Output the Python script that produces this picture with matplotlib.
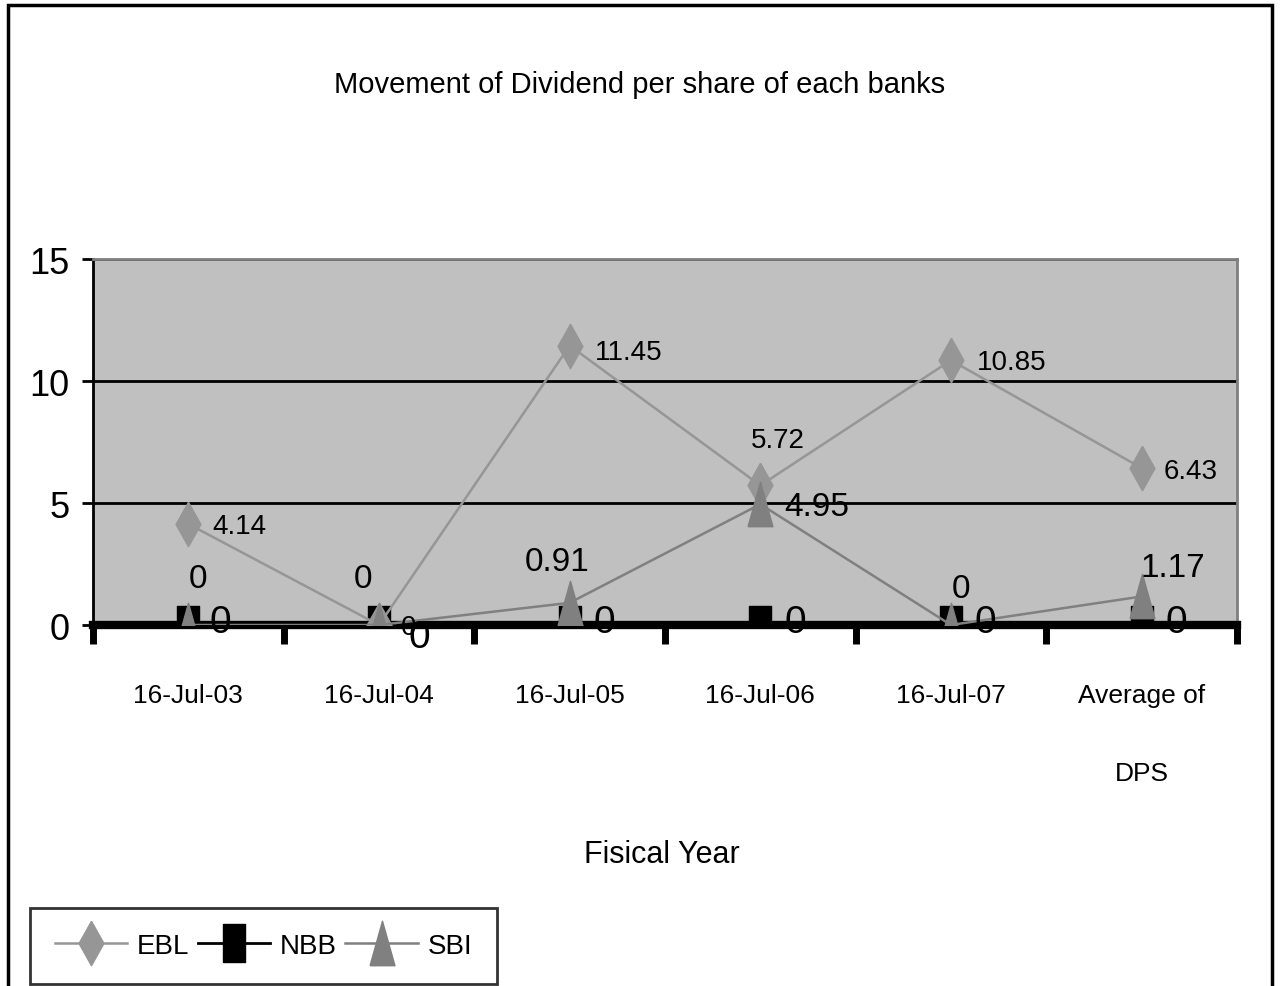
import matplotlib
matplotlib.use('Agg')
import matplotlib.pyplot as plt
from matplotlib.patches import Rectangle

plt.rcParams['font.family'] = ['Liberation Sans', 'DejaVu Sans']

# Dividend per share by fiscal year
years = ['16-Jul-03', '16-Jul-04', '16-Jul-05', '16-Jul-06', '16-Jul-07', 'Average of\nDPS']
ebl = [4.14, 0, 11.45, 5.72, 10.85, 6.43]
nbb = [0, 0, 0, 0, 0, 0]
sbi = [0, 0, 0.91, 4.95, 0, 1.17]

# label placement in pixels: (dx, dy, horizontal alignment)
ebl_pos = [(24, -2, 'left'), (22, -2, 'left'), (25, -6, 'left'),
           (17, 45, 'center'), (26, -2, 'left'), (22, -3, 'left')]
sbi_pos = [(10, 46, 'center'), (-16, 46, 'center'), (-13, 41, 'center'),
           (24, -2, 'left'), (10, 36, 'center'), (31, 29, 'center')]
nbb_pos = [(21, 3, 'left'), (30, -12, 'left'), (24, 3, 'left'),
           (24, 3, 'left'), (24, 3, 'left'), (24, 3, 'left')]

# tall narrow markers
diamond = [(0, 1), (0.56, 0), (0, -1), (-0.56, 0), (0, 1)]
triangle = [(-0.56, -1), (0.56, -1), (0, 1), (-0.56, -1)]
square = [(-0.57, -1), (0.57, -1), (0.57, 1), (-0.57, 1), (-0.57, -1)]

fig = plt.figure(figsize=(12.82, 9.87), dpi=100)
fig.patch.set_facecolor('white')

# chart frame
fig.patches.append(Rectangle((8 / 1282, -0.05), (1272 - 8) / 1282, 1.05 - 6 / 987,
                             transform=fig.transFigure, fill=False,
                             edgecolor='black', linewidth=2.5))

ax = fig.add_axes([93 / 1282, 1 - 626 / 987, (1237 - 93) / 1282, (626 - 260) / 987])
ax.set_facecolor('#c0c0c0')

x = list(range(len(years)))
ax.plot(x, ebl, color='#969696', linewidth=1.8, marker=diamond, markersize=32,
        markerfacecolor='#969696', markeredgecolor='#969696', label='EBL', zorder=4)
ax.plot(x, nbb, color='black', linewidth=2, marker=square, markersize=28,
        markerfacecolor='black', markeredgecolor='black', label='NBB', zorder=3)
ax.plot(x, sbi, color='#808080', linewidth=1.8, marker=triangle, markersize=32,
        markerfacecolor='#808080', markeredgecolor='#808080', label='SBI', zorder=5)


def put_labels(vals, pos, size):
    for xi, v, (dx, dy, ha) in zip(x, vals, pos):
        ax.annotate(f'{v:g}', (xi, v), xytext=(dx, dy), textcoords='offset pixels',
                    ha=ha, va='center', fontsize=size, zorder=6, annotation_clip=False)


put_labels(ebl, ebl_pos, 20)
put_labels(sbi, sbi_pos, 24)
put_labels(nbb, nbb_pos, 28)

ax.set_xlim(-0.5, len(years) - 0.5)
ax.set_ylim(0, 15)
ax.set_yticks([0, 5, 10, 15])
ax.yaxis.grid(True, color='black', linewidth=2)
ax.set_axisbelow(True)

# tick marks sit between categories, labels under each category
ax.set_xticks([i - 0.5 for i in range(len(years) + 1)])
ax.set_xticklabels([])
ax.set_xticks(x, minor=True)
ax.set_xticklabels(years, minor=True, fontsize=19, linespacing=3.8, va='top')
ax.tick_params(axis='x', which='major', direction='out', length=14, width=5, color='black')
ax.tick_params(axis='x', which='minor', length=0, pad=42)
ax.tick_params(axis='y', direction='out', length=8, width=2, labelsize=26, pad=9)

ax.spines['left'].set_linewidth(2)
ax.spines['bottom'].set_linewidth(6)
ax.spines['bottom'].set_zorder(2.5)
ax.spines['top'].set_color('#808080')
ax.spines['top'].set_linewidth(2)
ax.spines['right'].set_color('#808080')
ax.spines['right'].set_linewidth(2)

fig.text(640 / 1282, 1 - 85 / 987, 'Movement of Dividend per share of each banks',
         ha='center', va='center', fontsize=21)
fig.text(662 / 1282, 1 - 855 / 987, 'Fisical Year', ha='center', va='center', fontsize=22)

leg = fig.legend(loc='lower left',
                 bbox_to_anchor=(30 / 1282, 2 / 987, (497 - 30) / 1282, (985 - 885) / 987),
                 ncol=3, mode='expand', fontsize=20, frameon=True, fancybox=False,
                 handlelength=2.6, handletextpad=0.35, columnspacing=0.9,
                 borderaxespad=0, borderpad=0.9)
leg.get_frame().set_edgecolor('black')
leg.get_frame().set_linewidth(2)

fig.savefig('out.png', dpi=100)
